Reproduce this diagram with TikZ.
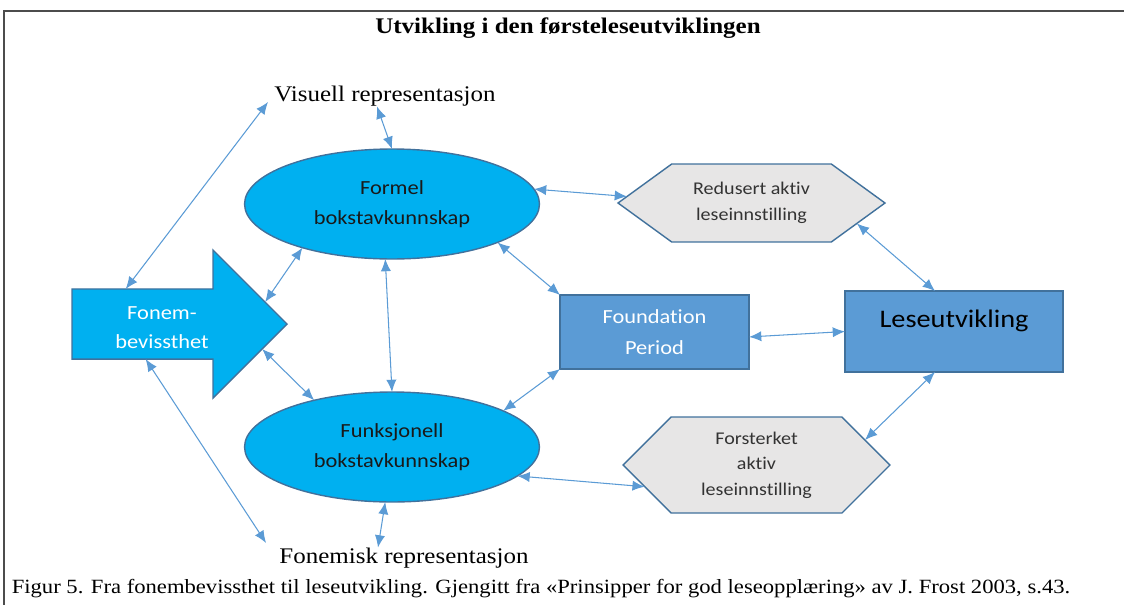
\documentclass[tikz,border=0pt]{standalone}
\usepackage{fontspec}
\setmainfont{Liberation Serif}[FakeStretch=1.12]
\newfontfamily\calibri{Carlito}[FakeStretch=1.12,Ligatures=NoCommon]
\usepackage{tikz}
\usetikzlibrary{arrows.meta,shapes.geometric,shapes.arrows,shapes.symbols}
\definecolor{cyanfill}{HTML}{00B0F0}
\definecolor{boxfill}{HTML}{5B9BD5}
\definecolor{edgeblue}{HTML}{41719C}
\definecolor{hexfill}{HTML}{E7E6E6}
\definecolor{linkblue}{HTML}{5B9BD5}

\begin{document}
\begin{tikzpicture}[x=0.02cm,y=-0.02cm,>={Latex[length=7pt,width=5.8pt]},
  link/.style={<->,draw=linkblue,line width=0.6pt},
  oval/.style={ellipse,draw=edgeblue,line width=0.8pt,fill=cyanfill,minimum width=5.9cm,minimum height=2.2cm,inner sep=0pt,outer sep=0pt,align=center,font=\calibri\fontsize{11.4}{17}\selectfont,text=black!90},
  hexa/.style={signal,signal to=west and east,draw=edgeblue,line width=0.8pt,fill=hexfill,minimum width=5.34cm,inner sep=0pt,outer sep=0pt,align=center,font=\calibri\fontsize{10.2}{14.6}\selectfont,text=black!80},
  blockbox/.style={rectangle,draw=edgeblue,line width=0.8pt,fill=boxfill,inner sep=0pt,outer sep=0pt,align=center},
  label/.style={inner sep=0pt,font=\fontsize{12.7}{15}\selectfont}]
\useasboundingbox (0,0) rectangle (1124,605);
\draw[line width=0.9pt,black!70] (1124,11) -- (4,11) -- (4,605);
\node[inner sep=0pt,font=\bfseries\fontsize{12.7}{15}\selectfont] (title) at (568,28) {Utvikling i den førsteleseutviklingen};
\node[label] (vis) at (385,96) {Visuell representasjon};
\node[label] (fonemisk) at (404,558) {Fonemisk representasjon};
\node[inner sep=0pt,font=\fontsize{11.5}{14}\selectfont] (caption) at (541,589) {Figur 5. Fra fonembevissthet til leseutvikling. Gjengitt fra «Prinsipper for god leseopplæring» av J. Frost 2003, s.43.};
\node[single arrow,single arrow tip angle=90,single arrow head extend=0.76cm,minimum height=4.3cm,minimum width=2.96cm,draw=edgeblue,line width=0.8pt,fill=cyanfill,inner xsep=0pt,inner ysep=0.09cm,outer sep=0pt,font=\calibri\fontsize{11.4}{16.5}\selectfont,text=white] (fonem) at (162,324) {\raisebox{-2.5pt}[\height][\depth]{\begin{tabular}{@{}c@{}}Fonem-\\bevissthet\end{tabular}}};
\node[oval] (formel) at (392,204) {Formel\\bokstavkunnskap};
\node[oval] (funk) at (392,447) {Funksjonell\\bokstavkunnskap};
\node[blockbox,minimum width=3.78cm,minimum height=1.48cm,font=\calibri\fontsize{11.4}{17.6}\selectfont,text=white] (found) at (654.5,332) {Foundation\\Period};
\node[blockbox,minimum width=4.36cm,minimum height=1.62cm,font=\calibri\fontsize{14.4}{17}\selectfont,text=black] (lese) at (954,331.5) {\raisebox{2.5pt}[0pt][0pt]{Leseutvikling}};
\node[hexa,signal pointer angle=72,minimum height=1.56cm] (redu) at (751.5,203) {Redusert aktiv\\leseinnstilling};
\node[hexa,signal pointer angle=90,minimum height=1.92cm] (fors) at (756.5,465) {Forsterket\\aktiv\\leseinnstilling};
\draw[link] (fonem.136) -- ([shift={(-0.12cm,-0.12cm)}]vis.west);
\draw[link] ([xshift=-0.16cm]vis.south) -- (formel.north);
\draw[link] (formel.206) -- (fonem.12);
\draw[link] (formel.263) -- (funk.90);
\draw[link] (fonem.346) -- (funk.149);
\draw[link] (fonem.245) -- ([shift={(-0.26cm,0.3cm)}]fonemisk.west);
\draw[link] (funk.263) -- ([xshift=-0.52cm]fonemisk.north);
\draw[link] (formel.6) -- (redu.177);
\draw[link] (formel.340) -- (found.north west);
\draw[link] (found.south west) -- (funk.18);
\draw[link] (found.357) -- (lese.west);
\draw[link] (redu.349) -- ([xshift=-0.38cm]lese.north);
\draw[link] ([xshift=-0.38cm]lese.south) -- (fors.13);
\draw[link] (funk.347) -- (fors.191);
\end{tikzpicture}
\end{document}
